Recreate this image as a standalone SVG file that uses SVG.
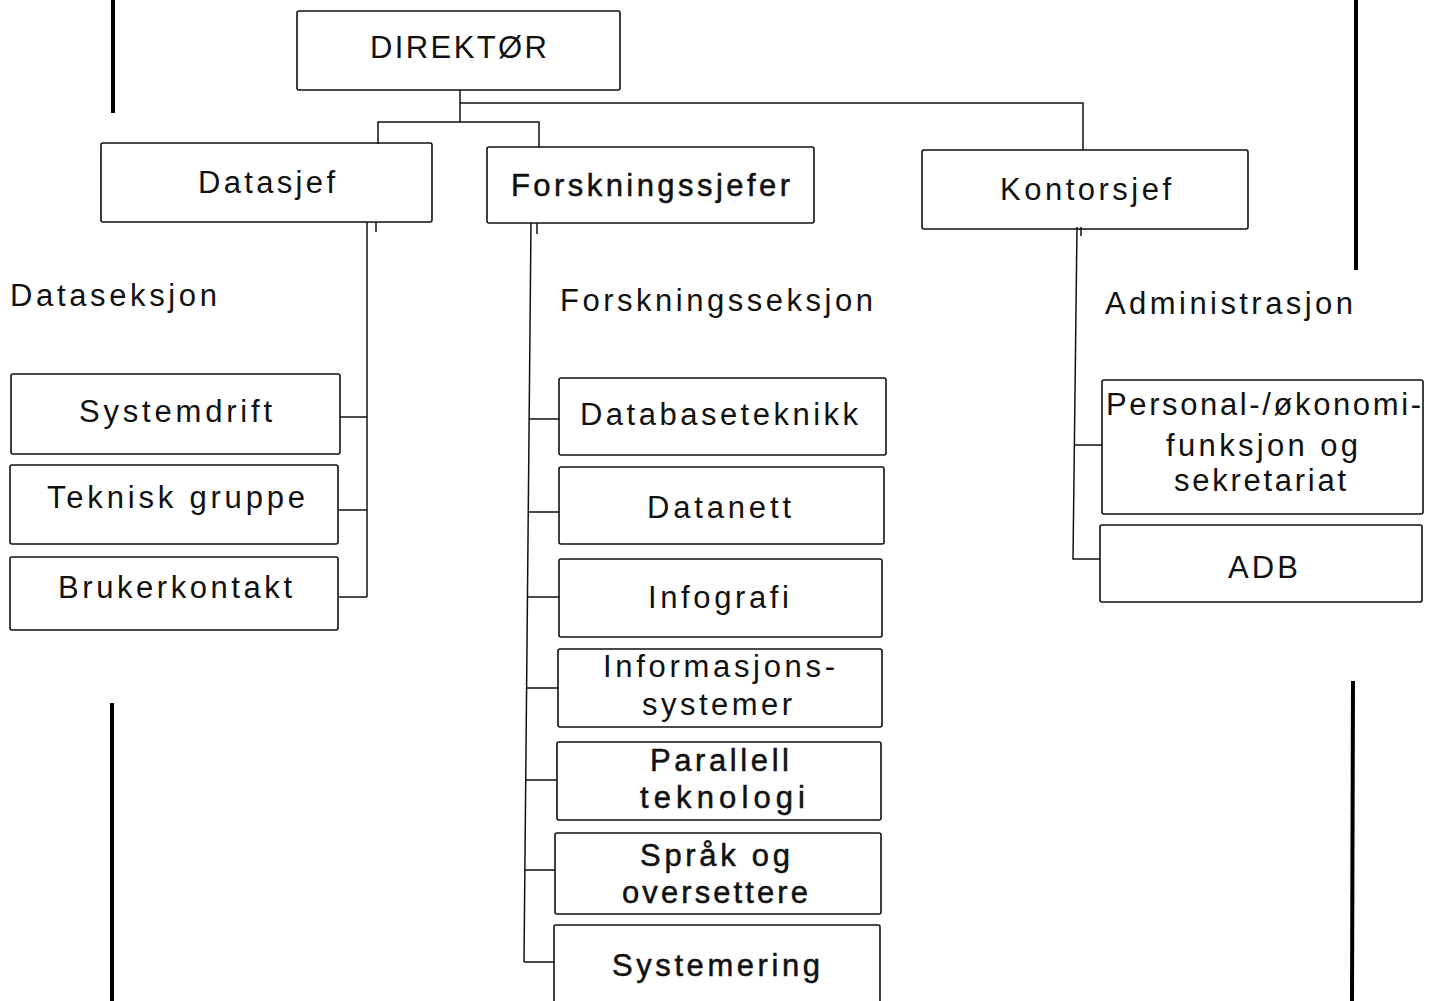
<svg xmlns="http://www.w3.org/2000/svg" width="1432" height="1001" viewBox="0 0 1432 1001">
<style>
  .box { fill: none; stroke: #111; stroke-width: 1.6; }
  .t { font-family: "Liberation Sans", Arial, sans-serif; font-size: 31px; fill: #111; }
  .m { stroke: #111; stroke-width: 0.5; }
  .conn path { fill: none; stroke: #111; stroke-width: 1.5; }
  .edge { stroke: #000; stroke-width: 4; }
</style>
<rect width="1432" height="1001" fill="#fff"/>
<g id="page-edges">
  <line class="edge" x1="113" y1="0" x2="113" y2="113"/>
  <line class="edge" x1="112" y1="703" x2="112" y2="1001"/>
  <line class="edge" x1="1356" y1="0" x2="1356" y2="270"/>
  <line class="edge" x1="1353" y1="681" x2="1352" y2="1001"/>
</g>
<g class="conn" id="connectors">
  <path d="M460 90 V122"/>
  <path d="M460 103 H1083 V150"/>
  <path d="M378 144 V122 H539 V147"/>
  <path d="M367 222 V597"/>
  <path d="M376 222 V232"/>
  <path d="M340 417 H367"/>
  <path d="M339 510 H367"/>
  <path d="M339 597 H367"/>
  <path d="M531 223 L524 962"/>
  <path d="M537 223 V234"/>
  <path d="M529 419 H559"/>
  <path d="M528.3 512 H559"/>
  <path d="M527.5 597 H559"/>
  <path d="M526.6 688 H558"/>
  <path d="M525.7 780 H557"/>
  <path d="M524.9 870 H555"/>
  <path d="M524 962 H554"/>
  <path d="M1077 227 L1073 559 H1100"/>
  <path d="M1081 227 V236"/>
  <path d="M1074.4 445 H1102"/>
</g>
<g id="direktor">
  <rect class="box" x="297" y="11" width="323" height="79" rx="2"/>
  <text class="t" x="370" y="58" textLength="177" lengthAdjust="spacing">DIREKTØR</text>
</g>
<g id="datasjef">
  <rect class="box" x="101" y="143" width="331" height="79" rx="2"/>
  <text class="t" x="198" y="193" textLength="137" lengthAdjust="spacing">Datasjef</text>
</g>
<g id="forskningssjefer">
  <rect class="box" x="487" y="147" width="327" height="76" rx="2"/>
  <text class="t m" x="511" y="196" textLength="279" lengthAdjust="spacing">Forskningssjefer</text>
</g>
<g id="kontorsjef">
  <rect class="box" x="922" y="150" width="326" height="79" rx="2"/>
  <text class="t" x="1000" y="200" textLength="171" lengthAdjust="spacing">Kontorsjef</text>
</g>
<g id="dataseksjon">
  <text class="t" x="10" y="306" textLength="207" lengthAdjust="spacing">Dataseksjon</text>
</g>
<g id="forskningsseksjon">
  <text class="t" x="560" y="311" textLength="313" lengthAdjust="spacing">Forskningsseksjon</text>
</g>
<g id="administrasjon">
  <text class="t" x="1105" y="314" textLength="248" lengthAdjust="spacing">Administrasjon</text>
</g>
<g id="systemdrift">
  <rect class="box" x="11" y="374" width="329" height="80" rx="2"/>
  <text class="t" x="79" y="422" textLength="193" lengthAdjust="spacing">Systemdrift</text>
</g>
<g id="teknisk-gruppe">
  <rect class="box" x="10" y="465" width="328" height="79" rx="2"/>
  <text class="t" x="47" y="508" textLength="258" lengthAdjust="spacing">Teknisk gruppe</text>
</g>
<g id="brukerkontakt">
  <rect class="box" x="10" y="557" width="328" height="73" rx="2"/>
  <text class="t" x="58" y="598" textLength="234" lengthAdjust="spacing">Brukerkontakt</text>
</g>
<g id="databaseteknikk">
  <rect class="box" x="559" y="378" width="327" height="77" rx="2"/>
  <text class="t" x="580" y="425" textLength="278" lengthAdjust="spacing">Databaseteknikk</text>
</g>
<g id="datanett">
  <rect class="box" x="559" y="467" width="325" height="77" rx="2"/>
  <text class="t" x="647" y="518" textLength="144" lengthAdjust="spacing">Datanett</text>
</g>
<g id="infografi">
  <rect class="box" x="559" y="559" width="323" height="78" rx="2"/>
  <text class="t" x="648" y="608" textLength="141" lengthAdjust="spacing">Infografi</text>
</g>
<g id="informasjonssystemer">
  <rect class="box" x="558" y="649" width="324" height="78" rx="2"/>
  <text class="t" x="603" y="677" textLength="232" lengthAdjust="spacing">Informasjons-</text>
  <text class="t" x="642" y="715" textLength="150" lengthAdjust="spacing">systemer</text>
</g>
<g id="parallell-teknologi">
  <rect class="box" x="557" y="742" width="324" height="78" rx="2"/>
  <text class="t m" x="650" y="771" textLength="139" lengthAdjust="spacing">Parallell</text>
  <text class="t m" x="640" y="808" textLength="165" lengthAdjust="spacing">teknologi</text>
</g>
<g id="sprak-og-oversettere">
  <rect class="box" x="555" y="833" width="326" height="81" rx="2"/>
  <text class="t m" x="640" y="866" textLength="150" lengthAdjust="spacing">Språk og</text>
  <text class="t m" x="622" y="903" textLength="186" lengthAdjust="spacing">oversettere</text>
</g>
<g id="systemering">
  <rect class="box" x="554" y="925" width="326" height="90" rx="2"/>
  <text class="t m" x="612" y="976" font-size="33" textLength="208" lengthAdjust="spacing">Systemering</text>
</g>
<g id="personal">
  <rect class="box" x="1102" y="380" width="321" height="134" rx="2"/>
  <text class="t" x="1106" y="415" textLength="315" lengthAdjust="spacing">Personal-/økonomi-</text>
  <text class="t" x="1166" y="456" font-size="30" textLength="192" lengthAdjust="spacing">funksjon og</text>
  <text class="t" x="1174" y="491" font-size="30" textLength="172" lengthAdjust="spacing">sekretariat</text>
</g>
<g id="adb">
  <rect class="box" x="1100" y="525" width="322" height="77" rx="2"/>
  <text class="t" x="1228" y="578" textLength="70" lengthAdjust="spacing">ADB</text>
</g>
</svg>
